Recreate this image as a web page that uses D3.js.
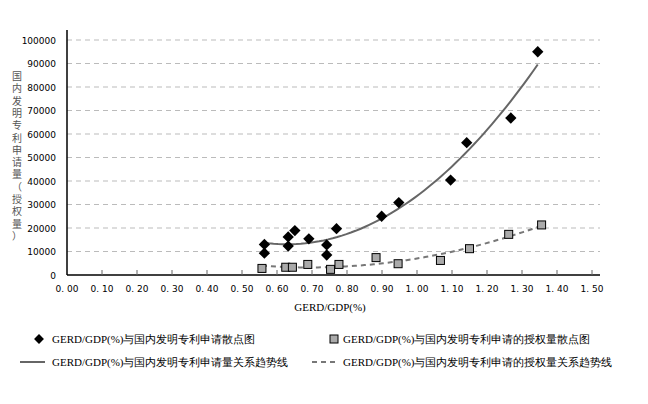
<!DOCTYPE html><html><head><meta charset="utf-8"><script src="https://cdn.jsdelivr.net/npm/d3@7"></script>
<style>body{margin:0;background:#fff}</style></head><body><svg id="c" width="648" height="404"></svg>
<script>
const appX=[0.564,0.564,0.632,0.632,0.651,0.691,0.742,0.742,0.770,0.899,0.948,1.096,1.142,1.268,1.345];
const appY=[13000,9300,16200,12300,18900,15400,12800,8500,19700,25000,30800,40400,56300,66800,95000];
const grX=[0.557,0.625,0.644,0.688,0.753,0.777,0.883,0.946,1.067,1.150,1.262,1.356];
const grY=[2800,3300,3300,4500,2400,4500,7400,4800,6200,11200,17300,21300];
const xTicks=[0,0.1,0.2,0.3,0.4,0.5,0.6,0.7,0.8,0.9,1.0,1.1,1.2,1.3,1.4,1.5];
const yTicks=[0,10000,20000,30000,40000,50000,60000,70000,80000,90000,100000];
const svg=d3.select("#c");
const x=d3.scaleLinear().domain([0,1.5]).range([67,592]);
const y=d3.scaleLinear().domain([0,100000]).range([275,40]);
svg.selectAll(".g").data(yTicks.slice(1)).join("line").attr("x1",67).attr("x2",600).attr("y1",d=>y(d)).attr("y2",d=>y(d)).attr("stroke","#bbb").attr("stroke-dasharray","5,4");
svg.append("line").attr("x1",67).attr("x2",67).attr("y1",30).attr("y2",275).attr("stroke","#000").attr("stroke-width",1.5);
svg.append("line").attr("x1",67).attr("x2",600).attr("y1",275).attr("y2",275).attr("stroke","#000").attr("stroke-width",1.5);
svg.selectAll(".xt").data(xTicks.slice(1)).join("line").attr("x1",d=>x(d)).attr("x2",d=>x(d)).attr("y1",275).attr("y2",270).attr("stroke","#666");
const f=d=>d.toFixed(2).replace(".",". ");
svg.selectAll(".xl").data(xTicks).join("text").attr("x",d=>x(d)).attr("y",292).attr("text-anchor","middle").attr("font-family","DejaVu Sans").attr("font-size",9).text(f);
svg.selectAll(".yl").data(yTicks).join("text").attr("x",56).attr("y",d=>y(d)+3.5).attr("text-anchor","end").attr("font-family","DejaVu Sans").attr("font-size",9).text(d=>d);
svg.append("text").attr("x",330).attr("y",311).attr("text-anchor","middle").attr("font-family","Liberation Serif").attr("font-size",11).text("GERD/GDP(%)");
const lab="国内发明专利申请量（授权量）".split("");
svg.selectAll(".yc").data(lab).join("text").attr("x",17).attr("y",(d,i)=>80+i*12.3).attr("text-anchor","middle").attr("font-family","Noto Sans CJK SC").attr("font-size",10).attr("fill","#555").text(d=>d);
function quad(xs,ys){let S=[0,0,0,0,0],T=[0,0,0];xs.forEach((a,i)=>{for(let k=0;k<5;k++)S[k]+=a**k;for(let k=0;k<3;k++)T[k]+=ys[i]*a**k;});
const M=[[S[0],S[1],S[2],T[0]],[S[1],S[2],S[3],T[1]],[S[2],S[3],S[4],T[2]]];
for(let i=0;i<3;i++){for(let j=i+1;j<3;j++){const r=M[j][i]/M[i][i];for(let k=i;k<4;k++)M[j][k]-=r*M[i][k];}}
const c=[0,0,0];for(let i=2;i>=0;i--){let s=M[i][3];for(let k=i+1;k<3;k++)s-=M[i][k]*c[k];c[i]=s/M[i][i];}return a=>c[0]+c[1]*a+c[2]*a*a;}
function trend(xs,ys,dash,col){const q=quad(xs,ys),lo=d3.min(xs),hi=d3.max(xs);const pts=d3.range(0,61).map(i=>lo+(hi-lo)*i/60);
svg.append("path").attr("d",d3.line().x(a=>x(a)).y(a=>y(q(a)))(pts)).attr("fill","none").attr("stroke",col).attr("stroke-width",2).attr("stroke-dasharray",dash);}
trend(appX,appY,null,"#666");trend(grX,grY,"5,4","#777");
svg.selectAll(".d").data(appX).join("rect").attr("x",-4).attr("y",-4).attr("width",8).attr("height",8).attr("transform",(d,i)=>`translate(${x(d)},${y(appY[i])}) rotate(45)`).attr("fill","#000");
svg.selectAll(".s").data(grX).join("rect").attr("x",d=>x(d)-4).attr("y",(d,i)=>y(grY[i])-4).attr("width",8).attr("height",8).attr("fill","#aaa").attr("stroke","#000");
const L=svg.append("g").attr("font-family","Liberation Serif").attr("font-size",11);
L.append("rect").attr("x",-3.5).attr("y",-3.5).attr("width",7).attr("height",7).attr("transform","translate(39,339) rotate(45)");
L.append("text").attr("x",52).attr("y",343).text("GERD/GDP(%)与国内发明专利申请散点图");
L.append("rect").attr("x",330).attr("y",335).attr("width",8).attr("height",8).attr("fill","#aaa").attr("stroke","#000");
L.append("text").attr("x",343).attr("y",343).text("GERD/GDP(%)与国内发明专利申请的授权量散点图");
L.append("line").attr("x1",20).attr("x2",45).attr("y1",362).attr("y2",362).attr("stroke","#666").attr("stroke-width",2);
L.append("text").attr("x",52).attr("y",366).text("GERD/GDP(%)与国内发明专利申请量关系趋势线");
L.append("line").attr("x1",312).attr("x2",337).attr("y1",362).attr("y2",362).attr("stroke","#777").attr("stroke-width",2).attr("stroke-dasharray","5,4");
L.append("text").attr("x",343).attr("y",366).text("GERD/GDP(%)与国内发明专利申请的授权量关系趋势线");
</script></body></html>
